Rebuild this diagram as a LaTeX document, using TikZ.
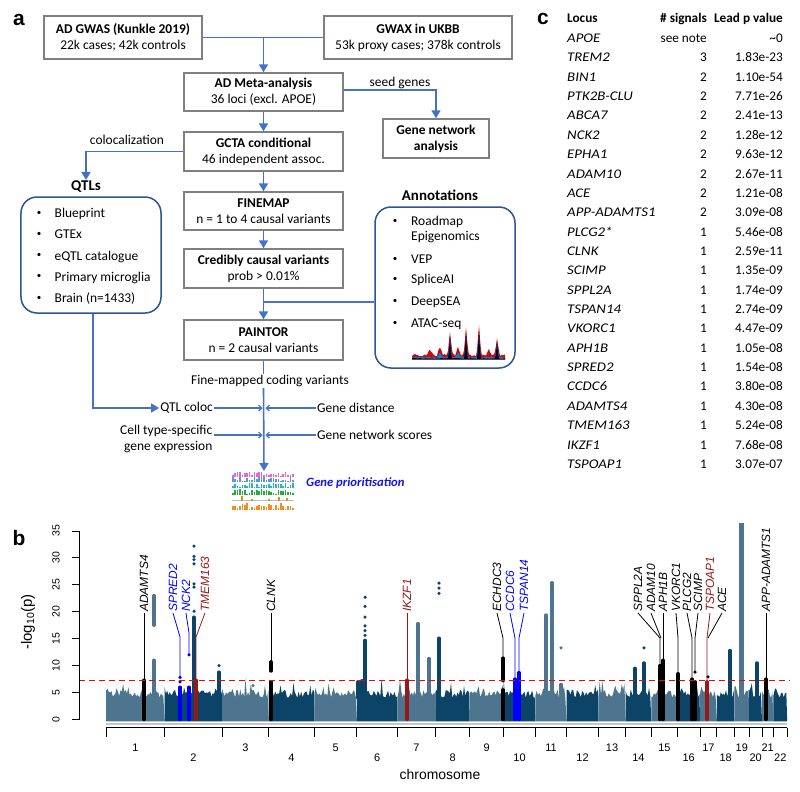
\documentclass[tikz,border=0pt]{standalone}
\usepackage{fontspec}
\setmainfont{Carlito}
\newfontfamily\arialf{Liberation Sans}
\newfontfamily\wideit[FakeStretch=1.12]{Carlito}
\usetikzlibrary{arrows.meta}
\definecolor{fblue}{RGB}{68,114,196}
\definecolor{boxgray}{RGB}{127,127,127}
\definecolor{rblue}{RGB}{47,85,151}
\definecolor{chrL}{RGB}{78,117,143}
\definecolor{chrD}{RGB}{12,68,104}
\definecolor{lred}{RGB}{150,25,25}
\definecolor{gpblue}{RGB}{20,20,240}
\definecolor{icPink}{RGB}{230,100,220}
\definecolor{icBlue}{RGB}{90,150,230}
\definecolor{icCyan}{RGB}{40,180,200}
\definecolor{icGreen}{RGB}{40,170,60}
\definecolor{icGold}{RGB}{190,160,30}
\definecolor{icOrange}{RGB}{245,140,30}
\newcommand\fsz{\fontsize{13.5}{16}\selectfont}
\newcommand\tsz{\fontsize{13.3}{15.5}\selectfont}
\newcommand\yv[1]{719.5-5.386*(#1)}
\newcommand\mcol[4]{\draw[line width=3.4bp,line cap=round,#4] (#1,{\yv{#2}}) -- (#1,{\yv{#3}});}
\newcommand\mdot[3]{\fill[#3] (#1,{\yv{#2}}) circle (1.75bp);}
\tikzset{
 flowbox/.style={draw=boxgray, line width=1.4bp, fill=white, align=center, inner sep=0pt, font=\fsz},
 flowline/.style={draw=fblue, line width=1.6bp},
 farrow/.style={flowline, -{Triangle[length=8bp,width=9bp]}},
 sarrow/.style={draw=fblue, line width=1.2bp, -{Straight Barb[length=3bp,width=6bp]}},
 roundbox/.style={draw=rblue, line width=1.5bp, rounded corners=16bp},
 ftext/.style={font=\fsz, inner sep=1bp},
 ttl/.style={font=\fontsize{15}{15}\selectfont\bfseries, inner sep=1bp},
 bul/.style={font=\fontsize{9}{9}\selectfont, inner sep=0pt},
 gene/.style={font=\arialf\itshape\fontsize{12}{12}\selectfont, rotate=90, anchor=west, inner sep=1bp},
 lbl/.style={line width=0.8bp},
 tbl/.style={font=\tsz, inner sep=0pt},
 plab/.style={font=\arialf\bfseries\fontsize{21}{21}\selectfont, inner sep=0pt},
 tick/.style={font=\arialf\fontsize{10.5}{10.5}\selectfont, inner sep=0pt},
}
\begin{document}
\begin{tikzpicture}[x=1bp,y=-1bp]
\pgfmathsetseed{7}
\useasboundingbox[fill=white] (0,0) rectangle (800,792);
% ---------------- panel labels
\node[plab] (la) at (19,20) {a};
\node[plab] (lc) at (543,19) {c};
\node[plab] (lb) at (19,538) {b};
% ---------------- flowchart
\node[flowbox, minimum width=158bp, minimum height=43bp] (gwas) at (123,37.5) {\textbf{AD GWAS (Kunkle 2019)}\\22k cases; 42k controls};
\node[flowbox, minimum width=188bp, minimum height=43bp] (gwax) at (418,37.5) {\textbf{GWAX in UKBB}\\53k proxy cases; 378k controls};
\node[flowbox, minimum width=159bp, minimum height=38bp] (meta) at (263.5,92) {\textbf{AD Meta-analysis}\\36 loci (excl. APOE)};
\node[flowbox, minimum width=106bp, minimum height=39bp] (gna) at (436,138.5) {\textbf{Gene network}\\\textbf{analysis}};
\node[flowbox, minimum width=159bp, minimum height=39bp] (gcta) at (263.5,151.5) {\textbf{GCTA conditional}\\46 independent assoc.};
\node[flowbox, minimum width=159bp, minimum height=38bp] (fmap) at (263.5,211) {\textbf{FINEMAP}\\n = 1 to 4 causal variants};
\node[flowbox, minimum width=159bp, minimum height=39bp] (cred) at (263.5,268.5) {\textbf{Credibly causal variants}\\prob > 0.01\%};
\node[flowbox, minimum width=159bp, minimum height=40bp] (paint) at (263.5,340) {\textbf{PAINTOR}\\n = 2 causal variants};

\coordinate (j1) at (meta.north |- gwas.east);
\draw[flowline] (gwas.east) -- (gwax.west);
\draw[farrow] (j1) -- (meta.north);
\draw[farrow] ([yshift=2bp]meta.east) -| (gna.north);
\node[ftext] (seed) at (400,83) {seed genes};
\draw[farrow] (meta) -- (gcta);
\draw[farrow] (gcta) -- (fmap);
\draw[farrow] (fmap) -- (cred);
\draw[farrow] (cred) -- (paint);

% QTLs
\node[ttl] (qtlt) at (86,187) {QTLs};
\node[ftext] (coloc) at (127,140) {colocalization};
\draw[farrow] (gcta.west) -| (qtlt.north);
\node[roundbox, minimum width=140bp, minimum height=116bp] (qtlb) at (91,255) {};
\foreach \t [count=\i from 0] in {Blueprint,GTEx,eQTL catalogue,Primary microglia,Brain (n=1433)}{
  \node[bul] (qb\i) at (39,{213+21.3*\i}) {\textbullet};
  \node[ftext, anchor=base west] (qi\i) at (53.5,{213+21.3*\i+4.4}) {\t};
}
% Annotations
\node[ttl] (annt) at (440,195) {Annotations};
\node[roundbox, minimum width=140bp, minimum height=161bp] (annb) at (445,287.5) {};
\foreach \t/\yy [count=\i] in {Roadmap/221,VEP/259,SpliceAI/279,DeepSEA/301,ATAC-seq/323}{
  \node[bul] (ab\i) at (395,\yy) {\textbullet};
  \node[ftext, anchor=base west] (ai\i) at (410,{\yy+4.4}) {\t};
}
\node[ftext, anchor=base west] (ai0) at (410,{236+4.4}) {Epigenomics};
% ATAC chart
\fill[red!85!black] (412,359.5) \foreach \x in {412,413,...,505}{ -- (\x,{359.5-(3+2.5*rnd+24*max(0,1-abs(\x-450)/2.5)+28*max(0,1-abs(\x-466)/2.5)+29*max(0,1-abs(\x-479)/2.5)+18*max(0,1-abs(\x-497)/2.5)+8*max(0,1-abs(\x-440)/3)+8*max(0,1-abs(\x-458)/3)+6*max(0,1-abs(\x-430)/3)+6*max(0,1-abs(\x-489)/3))})} -- (505,359.5) -- cycle;
\fill[cyan!60!blue] (412,359.5) \foreach \x in {412,413,...,505}{ -- (\x,{359.5-(1.5+1.5*rnd+20*max(0,1-abs(\x-450)/2)+22*max(0,1-abs(\x-466)/2)+22*max(0,1-abs(\x-479)/2)+14*max(0,1-abs(\x-497)/2)+5*max(0,1-abs(\x-440)/3)+5*max(0,1-abs(\x-458)/3))})} -- (505,359.5) -- cycle;
\fill[black!85!blue] (412,359.5) \foreach \x in {412,413,...,505}{ -- (\x,{359.5-(0.6+1*rnd+22*max(0,1-abs(\x-450)/1.5)+27*max(0,1-abs(\x-466)/1.5)+28*max(0,1-abs(\x-479)/1.5)+17*max(0,1-abs(\x-497)/1.5))})} -- (505,359.5) -- cycle;
\draw[black!70, line width=0.6bp] (412,359.5) -- (505,359.5);
\coordinate (j2) at (264,302);
\draw[flowline] (j2) -- (annb.west |- j2);

% lower flow
\node[ftext] (fmc) at (270,381) {Fine-mapped coding variants};
\draw[flowline] (paint.south) -- (paint.south |- fmc.north);
\coordinate (gptop) at (264,471);
\draw[farrow] (paint.south |- fmc.south) -- (gptop);
\node[ftext, anchor=east] (qtlc) at (214,408) {QTL coloc};
\draw[farrow] ([xshift=2bp]qtlb.south) |- (qtlc.west);
\coordinate (m1) at (264,408);
\coordinate (m2) at (264,435);
\node[ftext, anchor=west] (gdist) at (316,408) {Gene distance};
\node[ftext, anchor=west] (gnet) at (316,435) {Gene network scores};
\node[ftext, anchor=north east, align=right] (ctype) at (213.5,424) {Cell type-specific\\gene expression};
\draw[sarrow] (qtlc.east) -- ([xshift=-1.5bp]m1);
\draw[sarrow] (gdist.west) -- ([xshift=1.5bp]m1);
\draw[sarrow] (ctype.east |- m2) -- ([xshift=-1.5bp]m2);
\draw[sarrow] (gnet.west) -- ([xshift=1.5bp]m2);
% gene prioritisation icon
\foreach \b/\h/\cc in {476.5/4/icPink,482/4.5/icBlue,488/4.5/icCyan,494.5/4.5/icGreen,510/6.5/icOrange}{
  \foreach \x in {232,234.4,...,292}{\fill[\cc] (\x,\b) rectangle ++(1.6,{-(0.8+\h*rnd)});}
}
\draw[black!25, line width=0.6bp] (232,500.5) -- (293.6,500.5);
\foreach \x/\h in {241/5,251/2,268/2,278/4,286/3}{\fill[icGold] (\x,500.5) rectangle ++(1.6,-\h);}
\node[font=\fontsize{12.7}{13}\selectfont\bfseries\itshape, text=gpblue, anchor=west, inner sep=0pt] (gp) at (306,483) {Gene prioritisation};

% ---------------- table c
\node[tbl, anchor=base west] (h1) at (567,22.3) {\textbf{Locus}};
\node[tbl, anchor=base east] (h2) at (707,22.3) {\textbf{\# signals}};
\node[tbl, anchor=base east] (h3) at (783,22.3) {\textbf{Lead p value}};
\foreach \g/\s/\p [count=\i from 0] in {APOE/see note/\textasciitilde0,TREM2/3/1.83e-23,BIN1/2/1.10e-54,PTK2B-CLU/2/7.71e-26,ABCA7/2/2.41e-13,NCK2/2/1.28e-12,EPHA1/2/9.63e-12,ADAM10/2/2.67e-11,ACE/2/1.21e-08,APP-ADAMTS1/2/3.09e-08,PLCG2*/1/5.46e-08,CLNK/1/2.59e-11,SCIMP/1/1.35e-09,SPPL2A/1/1.74e-09,TSPAN14/1/2.74e-09,VKORC1/1/4.47e-09,APH1B/1/1.05e-08,SPRED2/1/1.54e-08,CCDC6/1/3.80e-08,ADAMTS4/1/4.30e-08,TMEM163/1/5.24e-08,IKZF1/1/7.68e-08,TSPOAP1/1/3.07e-07}{
  \node[tbl, anchor=base west] (loc\i) at (567,{38+19.36*\i+4.5}) {\wideit\itshape\g};
  \node[tbl, anchor=base east] (sig\i) at (707,{38+19.36*\i+4.5}) {\s};
  \node[tbl, anchor=base east] (pv\i) at (783,{38+19.36*\i+4.5}) {\p};
}

% ---------------- panel b: Manhattan
\foreach \xa/\xb/\cc in {106.2/164.6/chrL,164.6/222.1/chrD,222.1/268.7/chrL,268.7/314.3/chrD,314.3/356.9/chrL,356.9/397.4/chrD,397.4/435.4/chrL,435.4/469.7/chrD,469.7/503.6/chrL,503.6/535.4/chrD,535.4/566.6/chrL,566.6/598.4/chrD,598.4/625.6/chrL,625.6/651.3/chrD,651.3/677.4/chrL,677.4/700/chrD,700/716.9/chrL,716.9/734.3/chrD,734.3/749.2/chrL,749.2/762/chrD,762/773.3/chrL,773.3/787.2/chrD}{
  \pgfmathsetmacro\xs{\xa+1.3}
  \fill[\cc] (\xa,721.3) \foreach \x in {\xa,\xs,...,\xb}{ -- (\x,{\yv{4.0+1.5*rnd+2.2*rnd^10}})} -- (\xb,721.3) -- cycle;
}
% peaks
\mcol{154}{4}{11}{chrL} \mcol{154}{17.5}{23}{chrL}
\mcol{194}{4}{19}{chrD}
\foreach \v in {20.1,24.6,25.2,28.9,29.7,30.3,32.2}{\mdot{194}{\v}{chrD}}
\mcol{219}{4}{8.8}{chrD} \mdot{219}{10}{chrD}
\mdot{253}{6.3}{chrL}
\mcol{358}{4}{7}{chrD} \mcol{362}{4}{7.2}{chrD} \mcol{365}{4}{14.7}{chrD}
\foreach \v in {15.6,16.5,17.4,19,21,22.7}{\mdot{365}{\v}{chrD}}
\mcol{418}{4}{17.8}{chrL} \mcol{429}{4}{11.3}{chrL}
\mcol{439}{4}{15.1}{chrD}
\foreach \v in {23.4,24.4,25.3}{\mdot{439}{\v}{chrD}}
\mcol{546}{4}{19.4}{chrL} \mcol{552}{4}{25.4}{chrL} \mcol{561}{4}{6.5}{chrL} \mdot{561}{13.3}{chrL}
\mcol{635}{4}{9.5}{chrD} \mcol{644}{4}{10.5}{chrD} \mdot{644}{13.3}{chrD}
\mcol{730}{4}{12.8}{chrD}
\draw[line width=5bp,chrL] (741,{\yv{4}}) -- (741,523);
\mcol{757}{4}{10.5}{chrD}
% highlighted
\mcol{144}{0}{7.3}{black}
\mcol{180}{0}{6}{blue} \mdot{180}{7}{blue} \mdot{180}{7.8}{blue}
\mcol{189}{0}{6}{blue} \mdot{189}{12}{blue}
\mcol{196}{0}{7.3}{lred}
\mcol{271}{0}{7}{black} \mcol{271}{9}{10.7}{black}
\mcol{407}{0}{7.3}{lred}
\mcol{503}{0}{5.5}{black} \mcol{503}{7.2}{11.4}{black}
\mcol{515}{0}{7.5}{blue}
\mcol{519}{0}{8.7}{blue}
\mcol{660}{0}{10}{black} \mcol{663}{0}{11}{black}
\mcol{678}{0}{8.5}{black}
\mcol{692}{0}{7.5}{black} \mcol{695}{0}{7}{black} \mdot{695}{8.8}{black}
\mcol{707}{0}{7}{lred} \mdot{708}{7.9}{black}
\mcol{766}{0}{7.5}{black}
% threshold
\draw[red, line width=1bp, dash pattern=on 6bp off 4bp] (79,{\yv{7.3}}) -- (790,{\yv{7.3}});
% gene labels
\node[gene] (gADAMTS4) at (144,613) {ADAMTS4};
\node[gene, text=blue] (gSPRED2) at (173,613) {SPRED2};
\node[gene, text=blue] (gNCK2) at (186,613) {NCK2};
\node[gene, text=lred] (gTMEM163) at (205,613) {TMEM163};
\node[gene] (gCLNK) at (271,613) {CLNK};
\node[gene, text=lred] (gIKZF1) at (407,613) {IKZF1};
\node[gene] (gECHDC3) at (497,613) {ECHDC3};
\node[gene, text=blue] (gCCDC6) at (510,613) {CCDC6};
\node[gene, text=blue] (gTSPAN14) at (524,613) {TSPAN14};
\node[gene] (gSPPL2A) at (638,613) {SPPL2A};
\node[gene] (gADAM10) at (651,613) {ADAM10};
\node[gene] (gAPH1B) at (663,613) {APH1B};
\node[gene] (gVKORC1) at (676,613) {VKORC1};
\node[gene] (gPLCG2) at (687,613) {PLCG2};
\node[gene] (gSCIMP) at (698,613) {SCIMP};
\node[gene, text=lred] (gTSPOAP1) at (710,613) {TSPOAP1};
\node[gene] (gACE) at (722,613) {ACE};
\node[gene] (gAPP) at (766,613) {APP-ADAMTS1};
% label lines
\draw[lbl] (gADAMTS4.west) -- (144,{\yv{7.3}});
\draw[lbl, blue] (gSPRED2.west) -- (180,637) -- (180,{\yv{7.8}});
\draw[lbl, blue] (gNCK2.west) -- (189,633) -- (189,{\yv{12}});
\draw[lbl, lred] (gTMEM163.west) -- (196,637) -- (196,{\yv{7.3}});
\draw[lbl] (gCLNK.west) -- (271,{\yv{10.7}});
\draw[lbl, lred] (gIKZF1.west) -- (407,{\yv{7.3}});
\draw[lbl] (gECHDC3.west) -- (503,638) -- (503,{\yv{11.4}});
\draw[lbl, blue] (gCCDC6.west) -- (515,638) -- (515,{\yv{7.5}});
\draw[lbl, blue] (gTSPAN14.west) -- (519,638) -- (519,{\yv{8.7}});
\draw[lbl] (gSPPL2A.west) -- (660,638) -- (660,{\yv{10}});
\draw[lbl] (gADAM10.west) -- (661,638);
\draw[lbl] (gAPH1B.west) -- (663,{\yv{11}});
\draw[lbl] (gVKORC1.west) -- (678,638) -- (678,{\yv{8.5}});
\draw[lbl] (gPLCG2.west) -- (692,638) -- (692,{\yv{7.5}});
\draw[lbl] (gSCIMP.west) -- (695,638) -- (695,{\yv{8.8}});
\draw[lbl, lred] (gTSPOAP1.west) -- (707,638) -- (707,{\yv{7}});
\draw[lbl] (gACE.west) -- (708,638);
\draw[lbl] (gAPP.west) -- (766,{\yv{7.5}});
% axes
\draw[line width=0.9bp] (79,{\yv{0}}) -- (79,{\yv{35}});
\foreach \v in {0,5,...,35}{
  \draw[line width=0.9bp] (72,{\yv{\v}}) -- (79,{\yv{\v}});
  \node[tick, rotate=90] (yt\v) at (56,{\yv{\v}}) {\v};
}
\node[font=\arialf\fontsize{15}{15}\selectfont, rotate=90, inner sep=0pt] (ylab) at (28,622) {-log\textsubscript{10}(p)};
\draw[black!22, line width=2.5bp] (106,724) -- (787.2,724);
\draw[line width=0.9bp] (106.2,727.7) -- (787.2,727.7);
\foreach \t in {106.2,164.6,222.1,268.7,314.3,356.9,397.4,435.4,469.7,503.6,535.4,566.6,598.4,625.6,651.3,677.4,700,716.9,734.3,749.2,762,773.3,787.2}{
  \draw[line width=0.9bp] (\t,727.7) -- (\t,736.7);
}
\foreach \xa/\xb [count=\c] in {106.2/164.6,164.6/222.1,222.1/268.7,268.7/314.3,314.3/356.9,356.9/397.4,397.4/435.4,435.4/469.7,469.7/503.6,503.6/535.4,535.4/566.6,566.6/598.4,598.4/625.6,625.6/651.3,651.3/677.4,677.4/700,700/716.9,716.9/734.3,734.3/749.2,749.2/762,762/773.3,773.3/787.2}{
  \pgfmathsetmacro\yc{isodd(\c) ? 748 : 758}
  \node[tick, font=\arialf\fontsize{11}{11}\selectfont] (cl\c) at ({(\xa+\xb)/2},\yc) {\c};
}
\node[font=\arialf\fontsize{14}{14}\selectfont, inner sep=0pt] (xlab) at (440,775) {chromosome};
\end{tikzpicture}
\end{document}
